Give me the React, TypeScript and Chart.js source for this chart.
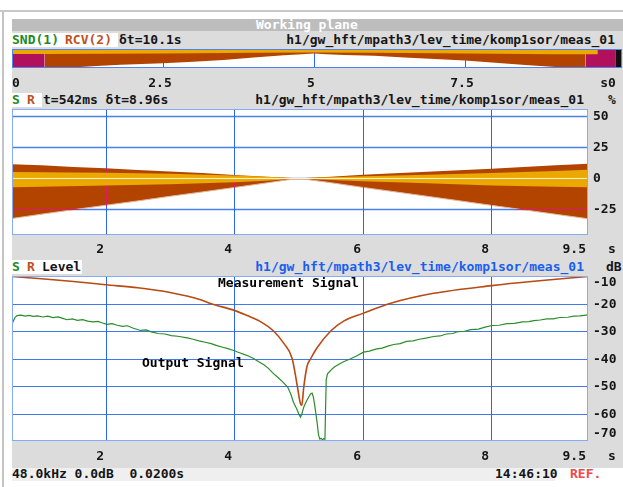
import React, { useEffect, useRef } from 'react';
import { Chart, registerables } from 'chart.js';

Chart.register(...registerables);

const W = 623;
const H = 487;
const MONO = "'DejaVu Sans Mono', 'Liberation Mono', monospace";
const FONT = `bold 13px ${MONO}`;

// ---------------- overview strip (whole recording) ----------------
const ovTimeRange = [0, 10.1];
const ovTickValues = [0, 2.5, 5, 7.5];
const ovTickLabels = ['0', '2.5', '5', '7.5'];
const ovGridValues = [2.5, 5, 7.5];
const ovT = [0.542, 0.85, 1.0, 1.4, 1.8, 2.5, 3.0, 3.5, 4.0, 4.5, 4.8, 5.0, 5.2, 5.5, 6.0, 6.5, 7.0, 7.5, 8.0, 8.5, 9.0, 9.2, 9.5];
const ovBrownBottom = [0, 0, 0.03, 0.11, 0.17, 0.25, 0.33, 0.42, 0.55, 0.67, 0.72, 0.76, 0.72, 0.69, 0.64, 0.55, 0.47, 0.39, 0.28, 0.16, 0.05, 0, 0];
const ovOrangeT = [0, 0.542, 2.5, 4.0, 5.0, 6.0, 7.5, 9.0, 9.7];
const ovOrangeBottom = [0.74, 0.74, 0.76, 0.8, 0.82, 0.8, 0.76, 0.72, 0.72];
const ovMagentaLeftT = [0, 0.542];
const ovMagentaRightT = [9.5, 10.0];
const ovBlackT = [10.0, 10.1];

// ---------------- zoomed time range (panels 2 and 3) ----------------
const zoomRange = [0.542, 9.502];
const xTickValues = [2, 4, 6, 8, 9.5];
const xTickLabels = ['2', '4', '6', '8', '9.5'];
const xGridValues = [2, 4, 6, 8];

// ---------------- level (%) panel ----------------
const pctRange = [-45.6, 56.0];
const pctTicks = [50, 25, 0, -25];
const envT = [0.542, 1.0, 1.5, 2.0, 2.5, 3.0, 3.5, 4.0, 4.5, 4.9, 5.1, 5.5, 6.0, 6.5, 7.0, 7.5, 8.0, 8.5, 9.0, 9.502];
const envTop = [11.4, 10.6, 9.3, 8.2, 6.9, 5.6, 4.3, 2.8, 1.3, 0.3, 0.3, 1.4, 2.9, 4.2, 5.4, 6.7, 7.9, 9.3, 10.6, 11.8];
const envBottom = [-32.3, -28.8, -25.2, -21.6, -18.1, -14.4, -10.9, -7.3, -3.6, -0.6, -0.6, -3.4, -7.2, -10.8, -14.4, -18.0, -21.7, -25.3, -28.9, -32.5];
const bandT = [0.542, 1.0, 2.0, 3.0, 4.0, 4.5, 4.9, 5.1, 5.5, 6.0, 7.0, 8.0, 9.0, 9.502];
const bandTop = [5.2, 5.0, 4.6, 3.8, 2.4, 1.3, 0.4, 0.4, 0.9, 1.7, 3.0, 4.3, 6.0, 7.0];
const bandBottom = [-7.0, -6.6, -5.6, -4.6, -3.0, -1.8, -0.4, -0.4, -1.2, -2.2, -3.8, -5.6, -6.6, -7.0];
const zeroT = [0.542, 9.502];
const zeroV = [0, 0];

// ---------------- level (dB) panel ----------------
const dbRange = [-70, -10];
const dbTicks = [-10, -20, -30, -40, -50, -60, -70];
const dbGrid = [-20, -30, -40, -50, -60];
const measT = [0.542, 1.0, 1.5, 2.0, 2.5, 3.0, 3.5, 3.63, 4.0, 4.2, 4.4, 4.61, 4.77, 4.9, 4.98, 5.03, 5.05, 5.08, 5.13, 5.19, 5.29, 5.5, 5.7, 6.01, 6.42, 7.1, 8.0, 8.66, 9.502];
const measDb = [-10.2, -11.0, -12.0, -13.2, -14.3, -16.0, -18.8, -20.0, -22.5, -24.4, -26.5, -30.0, -34.5, -40.0, -50.0, -56.5, -57.0, -50.5, -43.0, -40.0, -36.0, -30.0, -26.4, -23.5, -20.0, -16.3, -13.5, -11.9, -10.2];
const outT = [0.542, 0.56, 0.59, 0.62, 0.68, 0.75, 0.81, 0.87, 0.94, 1.02, 1.10, 1.18, 1.26, 1.33, 1.40, 1.48, 1.56, 1.64, 1.72, 1.80, 1.88, 1.95, 2.02, 2.10, 2.18, 2.26, 2.34, 2.42, 2.54, 2.63, 2.72, 2.82, 2.92, 3.02, 3.12, 3.27, 3.36, 3.45, 3.55, 3.64, 3.73, 3.82, 3.90, 3.99, 4.07, 4.15, 4.22, 4.30, 4.38, 4.46, 4.53, 4.61, 4.68, 4.75, 4.83, 4.88, 4.92, 4.97, 5.01, 5.03, 5.05, 5.08, 5.12, 5.16, 5.19, 5.21, 5.23, 5.26, 5.29, 5.31, 5.33, 5.35, 5.37, 5.39, 5.41, 5.42, 5.43, 5.45, 5.50, 5.55, 5.62, 5.70, 5.81, 5.90, 6.01, 6.10, 6.20, 6.30, 6.40, 6.48, 6.58, 6.68, 6.78, 6.88, 6.98, 7.10, 7.20, 7.30, 7.40, 7.48, 7.58, 7.68, 7.80, 7.90, 8.01, 8.12, 8.24, 8.36, 8.48, 8.58, 8.66, 8.76, 8.86, 8.96, 9.06, 9.19, 9.28, 9.38, 9.502];
const outDb = [-27.4, -26.5, -25.0, -24.4, -24.2, -24.6, -24.3, -24.7, -24.5, -24.9, -24.6, -25.1, -24.9, -25.4, -25.9, -25.6, -26.1, -25.9, -26.4, -26.7, -26.5, -27.1, -27.6, -27.3, -27.9, -28.3, -28.1, -28.9, -29.8, -29.6, -30.4, -30.9, -31.1, -31.7, -31.9, -32.5, -33.0, -33.6, -34.1, -34.6, -35.3, -35.9, -36.4, -37.1, -37.8, -38.5, -39.1, -40.0, -41.2, -42.3, -43.6, -45.5, -46.9, -48.4, -50.4, -53.0, -55.9, -58.3, -60.5, -61.3, -60.2, -57.7, -55.6, -53.9, -52.8, -52.6, -54.0, -58.5, -63.6, -67.8, -69.3, -69.0, -69.6, -69.1, -69.4, -58.0, -47.6, -45.6, -44.3, -43.2, -42.2, -41.2, -40.1, -39.1, -37.7, -37.3, -36.6, -36.2, -35.4, -34.9, -34.6, -33.8, -33.6, -33.0, -32.6, -32.0, -31.8, -31.1, -30.9, -30.2, -30.1, -29.5, -29.3, -28.6, -28.0, -27.9, -27.3, -27.2, -26.7, -26.6, -26.2, -26.0, -25.6, -25.6, -25.1, -25.0, -24.6, -24.5, -24.1];
const annotationLabels = ['Measurement Signal', 'Output Signal'];
const annotationT = [3.75, 2.57];
const annotationDb = [-12.4, -41.8];

// ---------------- helpers ----------------
const pts = (xs: number[], ys: number[]) => xs.map((x, i) => ({ x, y: ys[i] }));
const flat = (xs: number[], v: number) => xs.map((x) => ({ x, y: v }));

type Area = { left: number; top: number; right: number; bottom: number };
type Label = { v: number; text: string; align: CanvasTextAlign; dx: number };
type PanelSpec = {
  id: string;
  area: Area;
  xRange: number[];
  yRange: number[];
  xGrid: number[];
  yGrid: number[];
  vGridColor: string;
  hGridColor: string;
  hGridWidth: number;
  frameColor: string;
  pink?: string;
  pinkAfter?: number;
  pinkYGrid?: number[];
  xLabels: Label[];
  xLabelDy: number;
  xUnit?: { text: string; x: number };
  yLabels?: { v: number; text: string }[];
  yLabelDx?: number;
  notes?: { text: string; x: number; y: number }[];
};

function gridPixels(chart: any, p: PanelSpec, yVals: number[]) {
  const vLines = p.xGrid.map((v) => Math.round(chart.scales.x.getPixelForValue(v)) + 0.5);
  const hLines = yVals.map((v) => Math.round(chart.scales.y.getPixelForValue(v)) + 0.5);
  return { vLines, hLines };
}

function strokeLines(ctx: CanvasRenderingContext2D, a: Area, vLines: number[], hLines: number[], vc: string, hc: string, hw: number) {
  ctx.strokeStyle = vc;
  ctx.lineWidth = 1;
  ctx.beginPath();
  vLines.forEach((x) => { ctx.moveTo(x, a.top); ctx.lineTo(x, a.bottom); });
  ctx.stroke();
  ctx.strokeStyle = hc;
  ctx.lineWidth = hw;
  ctx.beginPath();
  hLines.forEach((y) => { ctx.moveTo(a.left, y); ctx.lineTo(a.right, y); });
  ctx.stroke();
}

function panelPlugin(p: PanelSpec) {
  return {
    id: 'panel_' + p.id,
    afterDatasetDraw(chart: any, args: any) {
      if (!p.pink || args.index !== p.pinkAfter) return;
      const { ctx, chartArea: a } = chart;
      const { vLines, hLines } = gridPixels(chart, p, p.pinkYGrid || []);
      ctx.save();
      ctx.beginPath();
      ctx.rect(a.left, a.top, a.right - a.left, a.bottom - a.top);
      ctx.clip();
      ctx.globalCompositeOperation = 'source-atop';
      strokeLines(ctx, a, vLines, hLines, p.pink, p.pink, 1);
      ctx.restore();
    },
    afterDatasetsDraw(chart: any) {
      const { ctx, chartArea: a, scales } = chart;
      const xs = scales.x;
      const ys = scales.y;
      const { vLines, hLines } = gridPixels(chart, p, p.yGrid);
      ctx.save();
      ctx.beginPath();
      ctx.rect(a.left, a.top, a.right - a.left, a.bottom - a.top);
      ctx.clip();
      ctx.globalCompositeOperation = 'destination-over';
      strokeLines(ctx, a, vLines, hLines, p.vGridColor, p.hGridColor, p.hGridWidth);
      ctx.fillStyle = '#ffffff';
      ctx.fillRect(a.left, a.top, a.right - a.left, a.bottom - a.top);
      ctx.restore();

      ctx.save();
      ctx.strokeStyle = p.frameColor;
      ctx.lineWidth = 1;
      ctx.strokeRect(Math.round(a.left) + 0.5, Math.round(a.top) + 0.5, Math.round(a.right - a.left) - 1, Math.round(a.bottom - a.top) - 1);
      ctx.font = FONT;
      ctx.fillStyle = '#151515';
      ctx.textBaseline = 'middle';
      const ly = Math.round(a.bottom + p.xLabelDy);
      p.xLabels.forEach((l) => {
        ctx.textAlign = l.align;
        ctx.fillText(l.text, Math.round(xs.getPixelForValue(l.v)) + l.dx, ly);
      });
      if (p.xUnit) {
        ctx.textAlign = 'center';
        ctx.fillText(p.xUnit.text, p.xUnit.x, ly);
      }
      if (p.yLabels) {
        ctx.textAlign = 'left';
        p.yLabels.forEach((l) => {
          let y = ys.getPixelForValue(l.v);
          y = Math.max(a.top + 6, Math.min(a.bottom - 8, y));
          ctx.fillText(l.text, a.right + (p.yLabelDx || 5), Math.round(y) + 1);
        });
      }
      if (p.notes) {
        ctx.textAlign = 'left';
        ctx.fillStyle = '#000000';
        p.notes.forEach((n) => {
          ctx.fillText(n.text, Math.round(xs.getPixelForValue(n.x)), Math.round(ys.getPixelForValue(n.y)) + 1);
        });
      }
      ctx.restore();
    },
  };
}

function baseOptions(p: PanelSpec): any {
  return {
    responsive: false,
    animation: false,
    devicePixelRatio: 1,
    events: [],
    layout: { padding: { left: p.area.left, top: p.area.top, right: W - p.area.right, bottom: H - p.area.bottom } },
    plugins: { legend: { display: false }, tooltip: { enabled: false } },
    elements: { point: { radius: 0 }, line: { tension: 0 } },
    scales: {
      x: { type: 'linear', display: false, min: p.xRange[0], max: p.xRange[1] },
      y: { type: 'linear', display: false, min: p.yRange[0], max: p.yRange[1] },
    },
  };
}

const BROWN = '#b34400';
const ORANGE = '#eba800';
const MAGENTA = '#b0105c';

function usePanel(ref: React.RefObject<HTMLCanvasElement>, spec: PanelSpec, datasets: any[]) {
  useEffect(() => {
    if (!ref.current) return;
    const chart = new Chart(ref.current, {
      type: 'line',
      data: { datasets },
      options: baseOptions(spec),
      plugins: [panelPlugin(spec)],
    } as any);
    return () => chart.destroy();
  }, []);
}

const overviewSpec: PanelSpec = {
  id: 'ov',
  area: { left: 12, top: 49, right: 622, bottom: 68 },
  xRange: ovTimeRange,
  yRange: [0, 1],
  xGrid: ovGridValues,
  yGrid: [],
  vGridColor: '#2a66ee',
  hGridColor: '#2a66ee',
  hGridWidth: 1,
  frameColor: '#4f82f0',
  pink: '#e0186c',
  pinkAfter: 0,
  pinkYGrid: [],
  xLabels: ovTickValues.map((v, i) => ({ v, text: ovTickLabels[i], align: (i === 0 ? 'left' : 'center') as CanvasTextAlign, dx: i === 0 ? 0 : -3 })),
  xLabelDy: 16,
  xUnit: { text: 's0', x: 608 },
};

const pctSpec: PanelSpec = {
  id: 'pct',
  area: { left: 12, top: 109, right: 588, bottom: 235 },
  xRange: zoomRange,
  yRange: pctRange,
  xGrid: xGridValues,
  yGrid: pctTicks,
  vGridColor: '#2a66ee',
  hGridColor: '#4a80f0',
  hGridWidth: 1.5,
  frameColor: '#86aaf4',
  pink: '#e0186c',
  pinkAfter: 1,
  pinkYGrid: [50, 25, -25],
  xLabels: xTickValues.map((v, i) => ({ v, text: xTickLabels[i], align: 'right' as CanvasTextAlign, dx: -2 })),
  xLabelDy: 15,
  xUnit: { text: 's', x: 612 },
  yLabels: pctTicks.map((v) => ({ v, text: String(v) })),
  yLabelDx: 5,
};

const dbSpec: PanelSpec = {
  id: 'db',
  area: { left: 12, top: 276, right: 588, bottom: 441 },
  xRange: zoomRange,
  yRange: dbRange,
  xGrid: xGridValues,
  yGrid: dbGrid,
  vGridColor: '#2a66ee',
  hGridColor: '#3f78f0',
  hGridWidth: 1,
  frameColor: '#86aaf4',
  xLabels: xTickValues.map((v, i) => ({ v, text: xTickLabels[i], align: 'right' as CanvasTextAlign, dx: -2 })),
  xLabelDy: 16,
  xUnit: { text: 's', x: 612 },
  yLabels: dbTicks.map((v) => ({ v, text: String(v) })),
  yLabelDx: 5,
  notes: annotationLabels.map((t, i) => ({ text: t, x: annotationT[i], y: annotationDb[i] })),
};

function Txt(props: { x: number; y: number; children: React.ReactNode; color?: string; right?: boolean; size?: number }) {
  const style: React.CSSProperties = {
    position: 'absolute',
    top: props.y - 8,
    height: 16,
    lineHeight: '16px',
    font: `bold ${props.size || 13}px ${MONO}`,
    color: props.color || '#151515',
    whiteSpace: 'pre',
  };
  if (props.right) style.right = W - props.x;
  else style.left = props.x;
  return <div style={style}>{props.children}</div>;
}

function Box(props: { x: number; y: number; w: number; h: number; bg: string }) {
  return <div style={{ position: 'absolute', left: props.x, top: props.y, width: props.w, height: props.h, background: props.bg }} />;
}

const GREEN_T = '#228a22';
const BROWN_T = '#c0501a';
const BLUE_T = '#1a5ef0';
const PATH = 'h1/gw_hft/mpath3/lev_time/komp1sor/meas_01';

export default function App() {
  const ovRef = useRef<HTMLCanvasElement>(null);
  const pctRef = useRef<HTMLCanvasElement>(null);
  const dbRef = useRef<HTMLCanvasElement>(null);

  usePanel(ovRef, overviewSpec, [
    { data: pts(ovT, ovBrownBottom), fill: { value: 1 }, backgroundColor: BROWN, borderWidth: 0, order: 6 },
    { data: flat(ovMagentaLeftT, 0), fill: { value: 1 }, backgroundColor: MAGENTA, borderWidth: 0, order: 5 },
    { data: flat(ovMagentaRightT, 0), fill: { value: 1 }, backgroundColor: MAGENTA, borderWidth: 0, order: 5 },
    { data: flat(ovBlackT, 0), fill: { value: 1 }, backgroundColor: '#101010', borderWidth: 0, order: 5 },
    { data: pts(ovOrangeT, ovOrangeBottom), fill: { value: 1 }, backgroundColor: ORANGE, borderWidth: 0, order: 2 },
  ]);

  usePanel(pctRef, pctSpec, [
    { data: pts(envT, envTop), fill: '+1', backgroundColor: BROWN, borderWidth: 0, order: 6 },
    { data: pts(envT, envBottom), fill: false, borderColor: '#e6b49a', borderWidth: 1, order: 5 },
    { data: pts(bandT, bandTop), fill: '+1', backgroundColor: ORANGE, borderWidth: 0, order: 4 },
    { data: pts(bandT, bandBottom), fill: false, borderWidth: 0, order: 3 },
    { data: pts(zeroT, zeroV), fill: false, borderColor: '#fff6e0', borderWidth: 1, order: 1 },
  ]);

  usePanel(dbRef, dbSpec, [
    { data: pts(measT, measDb), fill: false, borderColor: '#b84a12', borderWidth: 1.6, cubicInterpolationMode: 'monotone', order: 2 },
    { data: pts(outT, outDb), fill: false, borderColor: '#2c8c2c', borderWidth: 1.2, order: 1 },
  ]);

  return (
    <div style={{ position: 'fixed', left: 0, top: 0, width: W, height: H, background: '#ffffff', overflow: 'hidden' }}>
      <Box x={0} y={10} w={W} h={2} bg="#c8c8c8" />
      <Box x={2} y={11} w={2} h={H - 11} bg="#c4c4c4" />
      <Box x={12} y={19} w={W - 12} h={449} bg="#dcdcdc" />
      <Box x={12} y={19} w={W - 12} h={12} bg="#bdbdbd" />
      <Box x={12} y={468} w={543} h={13} bg="#efefef" />
      <Box x={12} y={33} w={106} h={14} bg="#ffffff" />
      <Box x={12} y={93} w={30} h={14} bg="#ffffff" />
      <Box x={12} y={260} w={70} h={14} bg="#ffffff" />

      <Txt x={256} y={25} color="#ffffff">Working plane</Txt>

      <Txt x={12} y={40} color={GREEN_T}>SND(1)</Txt>
      <Txt x={65} y={40} color={BROWN_T}>RCV(2)</Txt>
      <Txt x={119} y={40}>δt=10.1s</Txt>
      <Txt x={615} y={40} right>{PATH}</Txt>

      <Txt x={12} y={100} color={GREEN_T}>S</Txt>
      <Txt x={27} y={100} color={BROWN_T}>R</Txt>
      <Txt x={43} y={100}>t=542ms δt=8.96s</Txt>
      <Txt x={584} y={100} right>{PATH}</Txt>
      <Txt x={608} y={100}>%</Txt>

      <Txt x={12} y={267} color={GREEN_T}>S</Txt>
      <Txt x={27} y={267} color={BROWN_T}>R</Txt>
      <Txt x={42} y={267}>Level</Txt>
      <Txt x={584} y={267} right color={BLUE_T}>{PATH}</Txt>
      <Txt x={606} y={267}>dB</Txt>

      <Txt x={12} y={474}>48.0kHz 0.0dB  0.0200s</Txt>
      <Txt x={495} y={474}>14:46:10</Txt>
      <Txt x={570} y={474} color="#f04848">REF.</Txt>

      <canvas ref={ovRef} width={W} height={H} style={{ position: 'absolute', left: 0, top: 0 }} />
      <canvas ref={pctRef} width={W} height={H} style={{ position: 'absolute', left: 0, top: 0 }} />
      <canvas ref={dbRef} width={W} height={H} style={{ position: 'absolute', left: 0, top: 0 }} />
    </div>
  );
}
